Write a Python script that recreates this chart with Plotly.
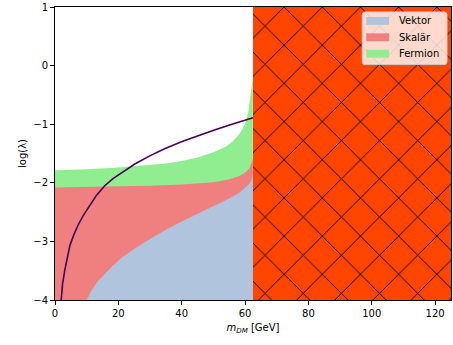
import plotly.graph_objects as go

# ---- data ----
fermion_x = [0, 10, 20, 30, 35, 40, 45, 50, 54, 56, 58, 59, 60, 61, 61.5, 61.8, 62.15, 62.3, 62.45]
fermion_y = [-1.785, -1.77, -1.74, -1.70, -1.67, -1.63, -1.57, -1.48, -1.38, -1.30, -1.18, -1.10, -0.99, -0.80, -0.62, -0.50, -0.32, -0.25, -0.20]

skalar_x = [0, 10, 20, 30, 40, 50, 55, 58, 60, 61.3, 62, 62.3, 62.45]
skalar_y = [-2.08, -2.075, -2.06, -2.05, -2.03, -1.99, -1.94, -1.89, -1.83, -1.76, -1.68, -1.62, -1.58]

vektor_x = [10.0, 11.5, 13.5, 15.7, 18, 21, 25.2, 30, 35, 40, 45, 50, 55, 58.2, 60, 61.3, 62, 62.45]
vektor_y = [-4.0, -3.84, -3.68, -3.55, -3.43, -3.28, -3.12, -2.96, -2.80, -2.66, -2.53, -2.41, -2.27, -2.17, -2.09, -2.02, -1.95, -1.82]

line_x = [1.5, 1.9, 2.4, 3.1, 3.9, 4.7, 6.0, 7.3, 8.9, 10.5, 13.0, 15.7, 18.3, 21.0, 25.2, 29.9, 34.6, 40.3, 45.6, 50.8, 56.1, 62.5]
line_y = [-4.3, -4.0, -3.72, -3.49, -3.27, -3.07, -2.88, -2.72, -2.56, -2.42, -2.22, -2.05, -1.93, -1.83, -1.68, -1.54, -1.42, -1.29, -1.185, -1.09, -0.995, -0.89]

excl_start, excl_end = 62.5, 125
y_min, y_max = -4, 1
x_ticks = [0, 20, 40, 60, 80, 100, 120]
y_ticks = [-4, -3, -2, -1, 0, 1]

legend_names = ["Vektor", "Skalär", "Fermion"]
legend_colors = ["#b0c4de", "#f08080", "#90ee90"]

FONT = "DejaVu Sans"
W, H = 453, 345
ML, MR, MT, MB = 55, 1, 5, 45
PW, PH = W - ML - MR, H - MT - MB

def xp(px):  # pixel -> paper x
    return (px - ML) / PW

def yp(py):  # pixel -> paper y
    return 1 - (py - MT) / PH

fig = go.Figure()

def band(xs, ys, color):
    px = list(xs) + [xs[-1], xs[0]]
    py = list(ys) + [y_min, y_min]
    fig.add_trace(go.Scatter(
        x=px, y=py, mode="lines", fill="toself", fillcolor=color,
        line=dict(width=0, color=color), showlegend=False, hoverinfo="skip"))

band(fermion_x, fermion_y, legend_colors[2])
band(skalar_x, skalar_y, legend_colors[1])
band(vektor_x, vektor_y, legend_colors[0])

fig.add_trace(go.Scatter(
    x=line_x, y=line_y, mode="lines",
    line=dict(color="#440154", width=1.6),
    showlegend=False, hoverinfo="skip"))

fig.add_trace(go.Bar(
    x=[(excl_start + excl_end) / 2], y=[y_max - y_min], base=[y_min],
    width=[excl_end - excl_start],
    marker=dict(color="#ff4500", line=dict(width=0),
                pattern=dict(shape="x", fgcolor="#000000", bgcolor="#ff4500",
                             fgopacity=1, size=27, solidity=0.065)),
    showlegend=False, hoverinfo="skip"))

# ---- legend drawn as layout shapes + text ----
bx0, bx1, by0, by1, r = 363, 448, 10, 63, 3
path = (f"M {xp(bx0 + r)},{yp(by0)} L {xp(bx1 - r)},{yp(by0)} "
        f"Q {xp(bx1)},{yp(by0)} {xp(bx1)},{yp(by0 + r)} "
        f"L {xp(bx1)},{yp(by1 - r)} Q {xp(bx1)},{yp(by1)} {xp(bx1 - r)},{yp(by1)} "
        f"L {xp(bx0 + r)},{yp(by1)} Q {xp(bx0)},{yp(by1)} {xp(bx0)},{yp(by1 - r)} "
        f"L {xp(bx0)},{yp(by0 + r)} Q {xp(bx0)},{yp(by0)} {xp(bx0 + r)},{yp(by0)} Z")
fig.add_shape(type="path", path=path, xref="paper", yref="paper",
              fillcolor="rgba(255,255,255,0.8)", line=dict(color="#cccccc", width=1),
              layer="above")
row_y = [19, 35.5, 52]
for name, col, ry in zip(legend_names, legend_colors, row_y):
    fig.add_shape(type="rect", xref="paper", yref="paper",
                  x0=xp(367), x1=xp(390), y0=yp(ry - 4), y1=yp(ry + 4),
                  fillcolor=col, line=dict(width=0), layer="above")
    fig.add_annotation(text=name, xref="paper", yref="paper", x=xp(398), y=yp(ry),
                       xanchor="left", yanchor="middle", showarrow=False,
                       font=dict(family=FONT, size=10, color="black"))

axis_common = dict(showline=True, linecolor="black", linewidth=1, mirror=True,
                   ticks="outside", ticklen=4, tickwidth=1, tickcolor="black",
                   showgrid=False, zeroline=False, ticklabeloverflow="allow",
                   tickfont=dict(family=FONT, size=10, color="black"))

fig.update_layout(
    width=W, height=H,
    margin=dict(l=ML, r=MR, t=MT, b=MB),
    paper_bgcolor="white", plot_bgcolor="white",
    font=dict(family=FONT, size=10, color="black"),
    showlegend=False,
    xaxis=dict(range=[0, 125], tickvals=x_ticks,
               title=dict(text="<i>m</i><sub><i>DM</i></sub> [GeV]", standoff=5,
                          font=dict(family=FONT, size=10)),
               **axis_common),
    yaxis=dict(range=[y_min, y_max], tickvals=y_ticks,
               title=dict(text="log(λ)", standoff=4, font=dict(family=FONT, size=10)),
               **axis_common),
)

fig.write_html("out.html")
